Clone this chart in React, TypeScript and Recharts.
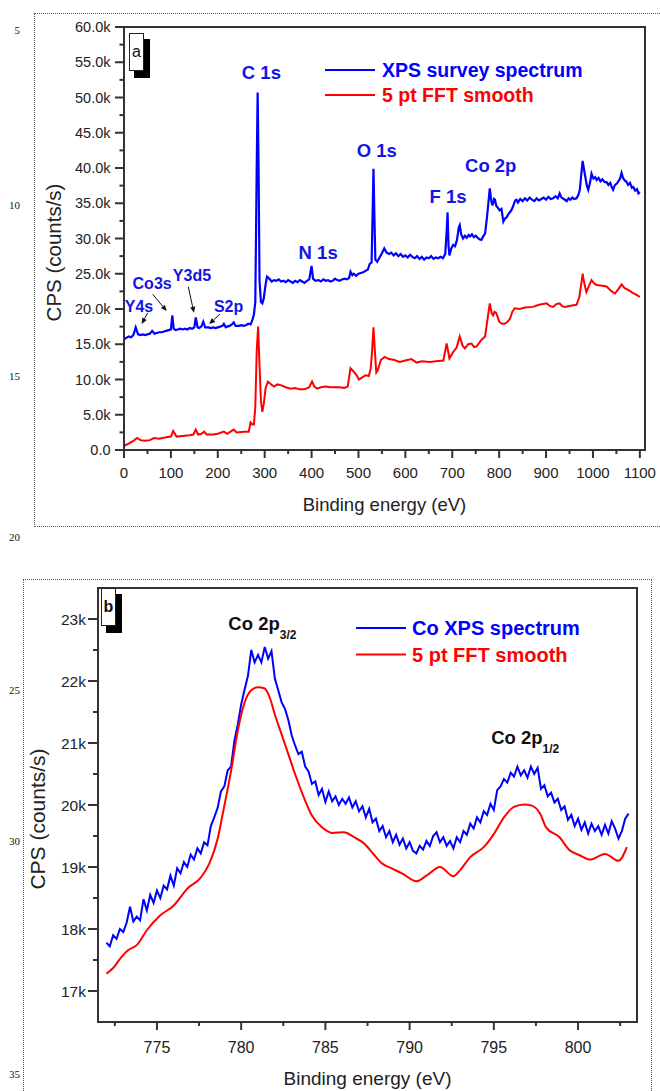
import React from 'react';
import {
  LineChart,
  Line,
  XAxis,
  YAxis,
  Legend,
  ReferenceArea,
  ReferenceDot,
  ReferenceLine,
} from 'recharts';

// ---- panel a: XPS survey scan ----
const surveyEnergy = [
  0, 5, 10, 15, 20, 25, 30, 35, 40, 45,
  50, 55, 60, 65, 70, 75, 80, 85, 90, 95,
  100, 103, 106, 110, 115, 120, 125, 130, 135, 140,
  145, 150, 153, 157, 160, 165, 169, 173, 180, 185,
  190, 195, 200, 205, 210, 213, 217, 220, 225, 230,
  234, 238, 245, 250, 255, 260, 265, 270, 274, 277,
  280, 283, 285, 287, 289, 292, 295, 298, 302, 305,
  310, 315, 320, 325, 330, 335, 340, 345, 350, 355,
  360, 365, 370, 375, 380, 385, 390, 395, 400, 403,
  408, 415, 420, 425, 430, 435, 440, 445, 450, 455,
  460, 465, 470, 475, 480, 483, 487, 490, 495, 500,
  505, 510, 515, 520, 524, 528, 530, 532, 534, 536,
  540, 545, 550, 555, 560, 565, 570, 575, 580, 585,
  590, 595, 600, 605, 610, 615, 620, 625, 630, 635,
  640, 645, 650, 655, 660, 665, 670, 675, 680, 685,
  688, 690, 692, 694, 698, 702, 706, 710, 714, 716,
  719, 723, 727, 731, 735, 738, 742, 746, 750, 754,
  758, 762, 766, 770, 774, 777, 780, 783, 786, 789,
  791, 794, 798, 801, 805, 809, 812, 816, 820, 826,
  830, 834, 837, 840, 845, 850, 855, 860, 865, 870,
  875, 880, 885, 890, 895, 900, 905, 910, 915, 920,
  925, 929, 933, 938, 944, 948, 952, 956, 960, 965,
  969, 972, 975, 978, 981, 983, 987, 990, 994, 997,
  1001, 1005, 1008, 1012, 1016, 1020, 1025, 1029, 1033, 1037,
  1040, 1043, 1047, 1051, 1055, 1058, 1061, 1064, 1068, 1071,
  1075, 1079, 1083, 1086, 1090, 1094, 1097, 1100,
];
const surveyCps = [
  15700, 15900, 16100, 16000, 16300, 17400, 16400, 16300, 16400, 16300,
  16400, 16500, 16900, 16500, 16600, 16700, 16700, 16800, 16900, 17000,
  17100, 19100, 17200, 17000, 17100, 17200, 17100, 17200, 17100, 17300,
  17200, 17400, 18800, 17400, 17300, 17500, 18200, 17400, 17400, 17300,
  17400, 17300, 17400, 17500, 17600, 17900, 17400, 17500, 17600, 17800,
  18100, 17600, 17600, 17700, 17600, 17700, 17900, 17800, 18500, 19200,
  21000, 40000, 50700, 40000, 24000, 21000, 20800, 21500, 23500, 24600,
  24300, 23900, 24100, 24000, 24200, 23900, 24000, 23800, 24100, 23900,
  23700, 24000, 23800, 24100, 23900, 23700, 24000, 24200, 26100, 24300,
  24000, 24100, 23900, 24200, 24000, 24100, 23900, 24000, 24300, 24100,
  24000, 24200, 24300, 24200, 24400, 25300, 24800, 25000, 24700, 25000,
  25100, 25200, 25400, 25600, 26400, 26600, 33000, 39900, 33000, 27000,
  26700, 27300, 27900, 28600, 28000, 27800, 28000, 27600, 27900, 27500,
  27800, 27400, 27600, 27300, 27700, 27400, 27200, 27500, 27100, 27400,
  27000, 27300, 27200, 27500, 27100, 27300, 27200, 27400, 27200, 27800,
  31000, 33700, 29000, 27600, 28600, 29100, 28900, 29800, 31600, 31900,
  30600, 30000, 30400, 30100, 30500, 30300, 30600, 30200, 30400, 30100,
  29900, 29800, 30300, 30700, 33000, 35000, 37100, 35400, 34700, 35600,
  35500, 34600, 34300, 34000, 34200, 32400, 32800, 33000, 33500, 34000,
  34600, 35400, 35500, 35100, 35600, 35300, 35700, 35400, 35800, 35500,
  35300, 35700, 35400, 35600, 35800, 35500, 35900, 35600, 35700, 36000,
  35700, 36400, 35800, 35600, 35300, 35700, 35500, 35800, 35600, 35700,
  36200, 36900, 39000, 41000, 39800, 39000, 37500, 36900, 38000, 39200,
  38500, 38700, 38300, 38600, 38100, 38400, 38000, 38000, 37600, 37900,
  37300, 36900, 37600, 37800, 38200, 38500, 39300, 38600, 38200, 38100,
  37600, 37900, 37200, 37300, 36800, 37000, 36400, 36600,
];

const smoothEnergy = [
  0, 10, 20, 28, 35, 45, 55, 64, 75, 90,
  100, 105, 112, 125, 140, 148, 153, 158, 165, 171,
  176, 190, 200, 213, 220, 234, 240, 255, 266, 270,
  274, 277, 280, 283, 286, 289, 292, 295, 298, 302,
  307, 312, 320, 327, 334, 345, 355, 365, 375, 385,
  395, 401, 406, 412, 420, 430, 440, 450, 460, 470,
  477, 483, 490, 496, 501, 508, 515, 522, 526, 529,
  532, 535, 538, 541, 548, 556, 565, 575, 588, 600,
  613, 624, 635, 652, 665, 681, 688, 694, 702, 709,
  716, 722, 727, 734, 741, 747, 752, 762, 770, 775,
  780, 784, 787, 790, 794, 800, 806, 812, 818, 823,
  828, 833, 844, 855, 872, 885, 901, 909, 915, 922,
  929, 934, 940, 955, 965, 971, 975, 978, 982, 986,
  991, 997, 1003, 1008, 1020, 1029, 1040, 1047, 1055, 1061,
  1067, 1075, 1085, 1093, 1100,
];
const smoothCps = [
  600, 900, 1300, 1700, 1400, 1300, 1400, 1700, 1600, 1800,
  1900, 2700, 1900, 2000, 2100, 2200, 2900, 2200, 2300, 2600,
  2200, 2200, 2300, 2600, 2300, 2900, 2500, 2600, 2600, 3900,
  3600, 3600, 6100, 14000, 17500, 12000, 7000, 5400, 6500, 8800,
  9700, 9400, 9000, 9300, 9200, 8900, 8700, 8800, 8600, 8600,
  8900, 9700, 9000, 8700, 8900, 9000, 8900, 8900, 8900, 8800,
  9000, 11600, 11100, 10600, 10000, 10300, 10600, 10500, 11500, 14000,
  17400, 14000, 11000, 11300, 12800, 13200, 12900, 12800, 12500, 12700,
  12900, 12400, 12600, 12500, 12600, 12700, 15100, 13000, 13900, 14500,
  16100, 14800, 14400, 15000, 15100, 14600, 14700, 15600, 16100, 18500,
  20800, 19400, 19100, 19600, 19400, 18200, 17900, 17900, 18200, 18600,
  19600, 20100, 20000, 20200, 20300, 20600, 20800, 20400, 20300, 20700,
  20800, 20400, 20300, 20500, 20600, 21700, 23500, 25000, 23500, 22400,
  23200, 24100, 23600, 23400, 23300, 23200, 22500, 22200, 22900, 23500,
  23000, 22700, 22300, 22000, 21700,
];

const surveyTicksX = [
  0, 50, 100, 150, 200, 250, 300, 350, 400, 450, 500, 550,
  600, 650, 700, 750, 800, 850, 900, 950, 1000, 1050, 1100,
];
const surveyTicksY = [
  0, 2500, 5000, 7500, 10000, 12500, 15000, 17500, 20000, 22500, 25000, 27500,
  30000, 32500, 35000, 37500, 40000, 42500, 45000, 47500, 50000, 52500, 55000,
  57500, 60000,
];

const surveyPeakNames = ['C 1s', 'N 1s', 'O 1s', 'F 1s', 'Co 2p'];
const surveyPeakE = [293, 414, 539, 691, 782];
const surveyPeakCps = [53500, 28000, 42500, 35900, 40300];

const minorPeakNames = ['Y4s', 'Co3s', 'Y3d5', 'S2p'];
const minorPeakE = [32, 60, 145, 223];
const minorPeakCps = [20400, 23600, 24800, 20400];
const arrowFromE = [50.5, 61.2, 137.1, 204.6];
const arrowFromCps = [19470, 22080, 23150, 19280];
const arrowToE = [37.7, 91.1, 149.2, 181.7];
const arrowToCps = [17870, 19710, 19470, 17860];

// ---- panel b: Co 2p region ----
const CO_START = 772;
const CO_STEP = 0.2;
const coCps = [
  17780, 17720, 17900, 17840, 18000, 17950, 18100, 18360, 18120, 18200,
  18140, 18480, 18300, 18550, 18420, 18620, 18500, 18700, 18640, 18860,
  18700, 18980, 18900, 19080, 19000, 19200, 19120, 19300, 19220, 19400,
  19350, 19660, 19800, 19950, 20220, 20300, 20560, 20620, 21040, 21300,
  21620, 21860, 22080, 22500, 22300, 22420, 22300, 22550, 22360, 22480,
  22040, 21850, 21660, 21550, 21370, 21120, 20960, 20820, 20860, 20620,
  20540, 20340, 20380, 20160, 20260, 20050, 20220, 20060, 20140, 20000,
  20100, 20020, 20120, 19960, 20060, 19900, 19980, 19800, 19940, 19720,
  19780, 19580, 19660, 19480, 19580, 19400, 19520, 19360, 19460, 19300,
  19400, 19260, 19220, 19340, 19280, 19420, 19340, 19500, 19560, 19400,
  19480, 19340, 19420, 19300, 19480, 19400, 19580, 19520, 19700, 19620,
  19800, 19720, 19900, 19840, 20020, 19920, 20240, 20300, 20420, 20360,
  20520, 20460, 20620, 20480, 20560, 20440, 20620, 20500, 20600, 20260,
  20320, 20140, 20200, 20040, 20100, 19920, 19980, 19760, 19840, 19660,
  19780, 19600, 19720, 19540, 19700, 19580, 19660, 19520, 19680, 19540,
  19740, 19620, 19460, 19580, 19780, 19860,
];
const coSmoothEnergy = [
  772.0, 772.4, 772.9, 773.3, 773.8, 774.4, 775.2, 776.0, 776.8, 777.6,
  778.1, 778.6, 778.9, 779.4, 779.8, 780.2, 780.6, 781.0, 781.4, 781.7,
  782.0, 782.4, 782.8, 783.2, 783.8, 784.2, 784.8, 785.4, 786.1, 786.7,
  787.3, 787.85, 788.4, 789.0, 789.6, 790.4, 791.0, 791.8, 792.6, 793.0,
  793.6, 794.4, 795.0, 795.6, 796.2, 796.8, 797.25, 797.75, 798.1, 798.9,
  799.5, 800.1, 800.7, 801.6, 802.4, 802.9,
];
const coSmoothCps = [
  17280, 17370, 17550, 17660, 17740, 17980, 18220, 18380, 18650, 18830,
  19050, 19450, 19850, 20550, 21200, 21650, 21850, 21900, 21880, 21730,
  21460, 21140, 20820, 20500, 20070, 19830, 19640, 19550, 19560, 19480,
  19380, 19210, 19050, 18970, 18890, 18770, 18860, 19000, 18850, 18950,
  19160, 19320, 19530, 19800, 19970, 20010, 19990, 19860, 19640, 19480,
  19270, 19190, 19120, 19210, 19100, 19320,
];

const coTicksX = [772.5, 775, 777.5, 780, 782.5, 785, 787.5, 790, 792.5, 795, 797.5, 800, 802.5];
const coTicksY = [
  17000, 17500, 18000, 18500, 19000, 19500, 20000, 20500, 21000, 21500, 22000, 22500, 23000,
];

const coPeakSubs = ['3/2', '1/2'];
const coPeakE = [779.24, 794.84];
const coPeakCps = [22830, 20980];

// series names, in the order the legends list them
const surveyLegend = ['XPS survey spectrum', '5 pt FFT smooth'];
const coLegend = ['Co XPS spectrum', '5 pt FFT smooth'];

// page margin line numbers
const marginNumbers = [5, 10, 15, 20, 25, 30, 35];
const marginNumberY = [30, 205, 376, 537, 690, 841, 1074];

const BLUE = '#0000ff';
const RED = '#ff0000';
const AXIS = '#333333';
const INK = '#222222';

const surveyData = surveyEnergy.map((e, i) => ({ e, cps: surveyCps[i] }));
const smoothData = smoothEnergy.map((e, i) => ({ e, cps: smoothCps[i] }));
const coData = coCps.map((cps, i) => ({ e: +(CO_START + i * CO_STEP).toFixed(1), cps }));
const coSmoothData = coSmoothEnergy.map((e, i) => ({ e, cps: coSmoothCps[i] }));

type TickArgs = { x?: number; y?: number; payload?: { value: number } };

const bottomTick =
  (isMajor: (v: number) => boolean, fmt: (v: number) => string, fontSize: number, labelDy: number) =>
  (props: TickArgs) => {
    const { x = 0, y = 0, payload } = props;
    const v = payload ? payload.value : 0;
    const major = isMajor(v);
    return (
      <g>
        <line x1={x} x2={x} y1={y} y2={y + (major ? 8 : 4)} stroke={AXIS} strokeWidth={2} />
        {major && (
          <text x={x} y={y + labelDy} textAnchor="middle" fontSize={fontSize} fill={INK}>
            {fmt(v)}
          </text>
        )}
      </g>
    );
  };

const leftTick =
  (isMajor: (v: number) => boolean, fmt: (v: number) => string, fontSize: number, majorLen: number, gap: number) =>
  (props: TickArgs) => {
    const { x = 0, y = 0, payload } = props;
    const v = payload ? payload.value : 0;
    const major = isMajor(v);
    return (
      <g>
        <line x1={x - (major ? majorLen : majorLen / 2)} x2={x} y1={y} y2={y} stroke={AXIS} strokeWidth={2} />
        {major && (
          <text x={x - gap} y={y} dy={fontSize * 0.36} textAnchor="end" fontSize={fontSize} fill={INK}>
            {fmt(v)}
          </text>
        )}
      </g>
    );
  };

const yTitle = (dx: number, dy: number, fontSize: number) => (props: any) => {
  const vb = props.viewBox || { x: 0, y: 0, width: 0, height: 0 };
  const x = vb.x + dx;
  const y = vb.y + vb.height / 2 + dy;
  return (
    <text x={x} y={y} transform={`rotate(-90 ${x} ${y})`} textAnchor="middle" fontSize={fontSize} fill={INK}>
      CPS (counts/s)
    </text>
  );
};

const legendContent = (order: string[], textX: number, rowGap: number, fontSize: number) => (props: any) => {
  const items = [...(props.payload || [])].sort(
    (a: any, b: any) => order.indexOf(String(a.value)) - order.indexOf(String(b.value)),
  );
  return (
    <svg width={300} height={rowGap * items.length + 12} style={{ display: 'block', overflow: 'visible' }}>
      {items.map((item: any, i: number) => {
        const cy = 12 + i * rowGap;
        return (
          <g key={String(item.value)}>
            <line x1={0} x2={50} y1={cy} y2={cy} stroke={item.color} strokeWidth={2} />
            <text x={textX} y={cy + 7} fontSize={fontSize} fontWeight="bold" fill={item.color}>
              {item.value}
            </text>
          </g>
        );
      })}
    </svg>
  );
};

const centeredLabel = (text: string, color: string, fontSize: number) => (p: any) => (
  <text x={p.cx} y={p.cy} dy={fontSize * 0.355} textAnchor="middle" fontSize={fontSize} fontWeight="bold" fill={color}>
    {text}
  </text>
);

const subLabel = (sub: string) => (p: any) => (
  <text x={p.cx} y={p.cy} fontSize={18.5} fontWeight="bold" fill="#111">
    Co 2p
    <tspan fontSize={12} dy={9}>
      {sub}
    </tspan>
  </text>
);

const Arrow = (p: any) => {
  const { x1, y1, x2, y2 } = p;
  const a = Math.atan2(y2 - y1, x2 - x1);
  const len = 6;
  const w = 2.6;
  const bx = x2 - len * Math.cos(a);
  const by = y2 - len * Math.sin(a);
  const pts = `${x2},${y2} ${bx - w * Math.sin(a)},${by + w * Math.cos(a)} ${bx + w * Math.sin(a)},${by - w * Math.cos(a)}`;
  return (
    <g>
      <line x1={x1} y1={y1} x2={bx} y2={by} stroke="#111" strokeWidth={1} />
      <polygon points={pts} fill="#111" />
    </g>
  );
};

function PanelTag({ left, top, letter, bold }: { left: number; top: number; letter: string; bold?: boolean }) {
  return (
    <svg style={{ position: 'absolute', left, top }} width={26} height={48}>
      <rect x={5} y={6} width={16} height={39} fill="#000" />
      <rect x={0.5} y={0.5} width={14} height={37} fill="#fff" stroke="#222" strokeWidth={1} />
      <text x={7.5} y={24} textAnchor="middle" fontSize={16} fontWeight={bold ? 'bold' : 'normal'} fill="#111">
        {letter}
      </text>
    </svg>
  );
}

export default function App() {
  return (
    <div
      style={{
        position: 'absolute',
        left: 0,
        top: 0,
        width: 660,
        height: 1091,
        overflow: 'hidden',
        background: '#fff',
        fontFamily: '"Liberation Sans", Arial, sans-serif',
      }}
    >
      {marginNumbers.map((n, i) => (
        <div
          key={n}
          style={{
            position: 'absolute',
            left: 0,
            width: 20,
            top: marginNumberY[i] - 7,
            textAlign: 'right',
            fontFamily: '"Liberation Serif", serif',
            fontSize: 11,
            lineHeight: '14px',
            color: '#111',
          }}
        >
          {n}
        </div>
      ))}

      <div style={{ position: 'absolute', left: 34, top: 13, width: 660, height: 512, border: '1px dotted #555' }} />
      <div style={{ position: 'absolute', left: 23, top: 579, width: 627, height: 600, border: '1px dotted #555' }} />

      {/* a: survey spectrum */}
      <div style={{ position: 'absolute', left: 0, top: 0 }}>
        <LineChart width={660} height={530} margin={{ top: 27, right: 15, bottom: 50, left: 44 }}>
          <XAxis
            type="number"
            dataKey="e"
            domain={[0, 1111]}
            ticks={surveyTicksX}
            interval={0}
            height={30}
            tickLine={false}
            tickSize={0}
            tickMargin={0}
            axisLine={{ stroke: AXIS, strokeWidth: 2 }}
            tick={bottomTick((v) => v % 100 === 0, (v) => String(v), 15, 28)}
            label={{ value: 'Binding energy (eV)', position: 'bottom', offset: 18, fontSize: 18.5, fill: INK }}
          />
          <YAxis
            type="number"
            domain={[0, 60000]}
            ticks={surveyTicksY}
            interval={0}
            width={80}
            tickLine={false}
            tickSize={0}
            tickMargin={0}
            axisLine={{ stroke: AXIS, strokeWidth: 2 }}
            tick={leftTick((v) => v % 5000 === 0, (v) => (v === 0 ? '0.0' : (v / 1000).toFixed(1) + 'k'), 14.5, 9, 13.5)}
            label={yTitle(16.7, 14, 20.5)}
          />
          <ReferenceArea x1={0} x2={1111} y1={0} y2={60000} fill="none" stroke={AXIS} strokeWidth={2} />
          <Line
            data={surveyData}
            dataKey="cps"
            name="XPS survey spectrum"
            type="linear"
            stroke={BLUE}
            strokeWidth={2.2}
            dot={false}
            isAnimationActive={false}
          />
          <Line
            data={smoothData}
            dataKey="cps"
            name="5 pt FFT smooth"
            type="linear"
            stroke={RED}
            strokeWidth={2}
            dot={false}
            isAnimationActive={false}
          />
          {surveyPeakNames.map((name, i) => (
            <ReferenceDot
              key={name}
              x={surveyPeakE[i]}
              y={surveyPeakCps[i]}
              r={0}
              shape={centeredLabel(name, '#1414e6', 18.5)}
            />
          ))}
          {minorPeakNames.map((name, i) => (
            <ReferenceDot
              key={name}
              x={minorPeakE[i]}
              y={minorPeakCps[i]}
              r={0}
              shape={centeredLabel(name, '#1414e6', 16)}
            />
          ))}
          {minorPeakNames.map((name, i) => (
            <ReferenceLine
              key={'arr' + name}
              segment={[
                { x: arrowFromE[i], y: arrowFromCps[i] },
                { x: arrowToE[i], y: arrowToCps[i] },
              ]}
              shape={Arrow}
            />
          ))}
          <Legend
            layout="vertical"
            verticalAlign="middle"
            align="center"
            wrapperStyle={{ left: 325, top: 58, width: 300, height: 60 }}
            content={legendContent(surveyLegend, 57, 25, 19.5)}
          />
        </LineChart>
      </div>

      {/* b: Co 2p region */}
      <div style={{ position: 'absolute', left: 0, top: 560 }}>
        <LineChart width={660} height={531} margin={{ top: 28, right: 23, bottom: 39, left: 38 }}>
          <XAxis
            type="number"
            dataKey="e"
            domain={[771.5, 803.5]}
            ticks={coTicksX}
            interval={0}
            height={30}
            tickLine={false}
            tickSize={0}
            tickMargin={0}
            axisLine={{ stroke: AXIS, strokeWidth: 2 }}
            tick={bottomTick((v) => v % 5 === 0, (v) => String(v), 16, 30.5)}
            label={{ value: 'Binding energy (eV)', position: 'bottom', offset: 20, fontSize: 19, fill: INK }}
          />
          <YAxis
            type="number"
            domain={[16500, 23500]}
            ticks={coTicksY}
            interval={0}
            width={60}
            tickLine={false}
            tickSize={0}
            tickMargin={0}
            axisLine={{ stroke: AXIS, strokeWidth: 2 }}
            tick={leftTick((v) => v % 1000 === 0, (v) => v / 1000 + 'k', 15.5, 10, 12)}
            label={yTitle(7.3, 14, 21)}
          />
          <ReferenceArea x1={771.5} x2={803.5} y1={16500} y2={23500} fill="none" stroke={AXIS} strokeWidth={2} />
          <Line
            data={coData}
            dataKey="cps"
            name="Co XPS spectrum"
            type="linear"
            stroke={BLUE}
            strokeWidth={2}
            dot={false}
            isAnimationActive={false}
          />
          <Line
            data={coSmoothData}
            dataKey="cps"
            name="5 pt FFT smooth"
            type="monotone"
            stroke={RED}
            strokeWidth={2}
            dot={false}
            isAnimationActive={false}
          />
          {coPeakSubs.map((sub, i) => (
            <ReferenceDot key={sub} x={coPeakE[i]} y={coPeakCps[i]} r={0} shape={subLabel(sub)} />
          ))}
          <Legend
            layout="vertical"
            verticalAlign="middle"
            align="center"
            wrapperStyle={{ left: 356, top: 56, width: 300, height: 60 }}
            content={legendContent(coLegend, 56, 26.5, 20)}
          />
        </LineChart>
      </div>

      <PanelTag left={129} top={33} letter="a" />
      <PanelTag left={101} top={588} letter="b" bold />
    </div>
  );
}
